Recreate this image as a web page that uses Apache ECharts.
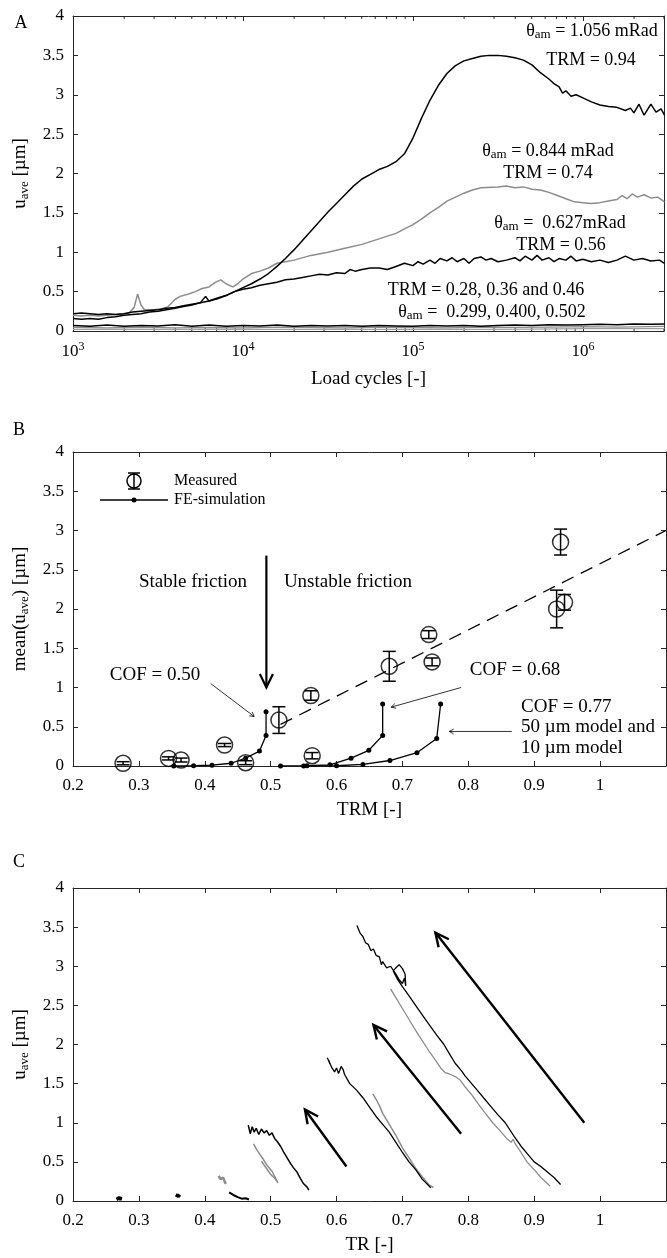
<!DOCTYPE html>
<html><head><meta charset="utf-8">
<script src="https://cdn.jsdelivr.net/npm/echarts@6/dist/echarts.min.js"></script>
<style>html,body{margin:0;padding:0;background:#fff}#c{width:667px;height:1258px}</style>
</head><body><div id="c"></div>
<script>
const FONT = 'Liberation Serif';
const AX = '#262626';
const GRAY = '#8c8c8c';

// ---------- Panel A: u_ave vs load cycles, pairs [log10(cycles), u_ave] ----------
const minorCycleTicks = [2e3,3e3,4e3,5e3,6e3,7e3,8e3,9e3,2e4,3e4,4e4,5e4,6e4,7e4,8e4,9e4,2e5,3e5,4e5,5e5,6e5,7e5,8e5,9e5,2e6,3e6];
const curveTRM094 = [[3.00,0.16],[3.05,0.15],[3.10,0.16],[3.15,0.15],[3.20,0.17],[3.25,0.18],[3.30,0.20],[3.35,0.21],[3.40,0.22],[3.45,0.24],[3.50,0.25],[3.55,0.27],[3.60,0.29],[3.65,0.31],[3.70,0.33],[3.75,0.36],[3.80,0.38],[3.85,0.41],[3.90,0.45],[3.95,0.50],[4.00,0.55],[4.05,0.60],[4.10,0.66],[4.15,0.73],[4.20,0.82],[4.25,0.92],[4.30,1.03],[4.35,1.15],[4.40,1.27],[4.45,1.39],[4.50,1.51],[4.55,1.62],[4.60,1.73],[4.65,1.84],[4.70,1.93],[4.75,1.99],[4.80,2.05],[4.85,2.09],[4.90,2.15],[4.95,2.25],[5.00,2.45],[5.05,2.70],[5.10,2.93],[5.15,3.12],[5.20,3.27],[5.25,3.37],[5.30,3.43],[5.35,3.46],[5.40,3.49],[5.45,3.50],[5.50,3.50],[5.55,3.49],[5.60,3.47],[5.65,3.44],[5.70,3.38],[5.75,3.28],[5.80,3.20],[5.83,3.14],[5.86,3.10],[5.88,3.02],[5.90,3.05],[5.93,2.98],[5.96,3.00],[6.00,2.96],[6.05,2.91],[6.10,2.87],[6.15,2.85],[6.20,2.84],[6.25,2.80],[6.28,2.83],[6.30,2.77],[6.33,2.88],[6.36,2.74],[6.40,2.88],[6.43,2.78],[6.46,2.82],[6.48,2.74]];
const curveTRM074 = [[3.00,0.20],[3.05,0.19],[3.10,0.20],[3.15,0.19],[3.20,0.20],[3.25,0.21],[3.30,0.22],[3.33,0.23],[3.36,0.30],[3.38,0.47],[3.40,0.33],[3.42,0.27],[3.47,0.27],[3.52,0.28],[3.56,0.31],[3.60,0.40],[3.63,0.44],[3.68,0.47],[3.72,0.50],[3.76,0.54],[3.80,0.56],[3.84,0.62],[3.87,0.65],[3.90,0.60],[3.94,0.56],[3.97,0.60],[4.00,0.66],[4.05,0.73],[4.10,0.76],[4.15,0.80],[4.20,0.86],[4.25,0.88],[4.30,0.90],[4.40,0.96],[4.50,1.00],[4.60,1.05],[4.70,1.10],[4.80,1.17],[4.90,1.24],[5.00,1.35],[5.05,1.42],[5.10,1.50],[5.15,1.57],[5.20,1.65],[5.25,1.70],[5.30,1.75],[5.35,1.79],[5.40,1.82],[5.50,1.83],[5.55,1.84],[5.60,1.82],[5.65,1.83],[5.70,1.80],[5.75,1.79],[5.80,1.76],[5.85,1.72],[5.90,1.68],[5.95,1.64],[6.00,1.63],[6.05,1.62],[6.10,1.63],[6.15,1.65],[6.20,1.67],[6.23,1.72],[6.26,1.68],[6.29,1.74],[6.32,1.70],[6.36,1.73],[6.40,1.69],[6.44,1.70],[6.48,1.64]];
const curveTRM056 = [[3.00,0.22],[3.05,0.23],[3.10,0.22],[3.15,0.21],[3.20,0.22],[3.25,0.21],[3.30,0.22],[3.35,0.24],[3.40,0.25],[3.45,0.26],[3.50,0.27],[3.55,0.29],[3.60,0.30],[3.65,0.32],[3.70,0.34],[3.75,0.36],[3.78,0.44],[3.80,0.38],[3.85,0.42],[3.90,0.45],[3.95,0.50],[4.00,0.53],[4.05,0.55],[4.10,0.58],[4.15,0.60],[4.20,0.62],[4.25,0.65],[4.30,0.66],[4.35,0.68],[4.40,0.70],[4.45,0.72],[4.50,0.71],[4.55,0.74],[4.60,0.73],[4.63,0.78],[4.66,0.76],[4.70,0.78],[4.75,0.80],[4.80,0.80],[4.85,0.78],[4.90,0.82],[4.95,0.86],[5.00,0.83],[5.03,0.88],[5.06,0.85],[5.10,0.90],[5.13,0.86],[5.16,0.92],[5.20,0.89],[5.23,0.93],[5.26,0.88],[5.30,0.92],[5.33,0.86],[5.36,0.92],[5.40,0.94],[5.43,0.90],[5.46,0.92],[5.50,0.88],[5.55,0.90],[5.60,0.93],[5.63,0.89],[5.66,0.95],[5.70,0.90],[5.73,0.96],[5.76,0.90],[5.80,0.93],[5.83,0.88],[5.86,0.92],[5.90,0.90],[5.93,0.95],[5.96,0.89],[6.00,0.91],[6.05,0.88],[6.10,0.90],[6.15,0.87],[6.20,0.90],[6.25,0.95],[6.30,0.90],[6.35,0.92],[6.40,0.89],[6.45,0.90],[6.48,0.86]];
const curveLowBlack = [[3.00,0.07],[3.10,0.06],[3.20,0.075],[3.30,0.06],[3.40,0.07],[3.50,0.065],[3.60,0.08],[3.70,0.06],[3.80,0.075],[3.90,0.06],[4.00,0.07],[4.10,0.065],[4.20,0.075],[4.30,0.06],[4.40,0.07],[4.50,0.065],[4.60,0.07],[4.70,0.06],[4.80,0.07],[4.90,0.065],[5.00,0.06],[5.10,0.07],[5.20,0.065],[5.30,0.07],[5.40,0.06],[5.50,0.07],[5.60,0.075],[5.70,0.07],[5.80,0.08],[5.90,0.075],[6.00,0.08],[6.10,0.085],[6.20,0.08],[6.30,0.09],[6.40,0.085],[6.48,0.09]];
const curveLowGray1 = [[3.00,0.045],[3.20,0.04],[3.40,0.05],[3.60,0.04],[3.80,0.045],[4.00,0.04],[4.20,0.05],[4.40,0.045],[4.60,0.04],[4.80,0.05],[5.00,0.045],[5.20,0.04],[5.40,0.05],[5.60,0.045],[5.80,0.05],[6.00,0.055],[6.20,0.05],[6.48,0.06]];
const curveLowGray2 = [[3.00,0.02],[3.30,0.025],[3.60,0.02],[3.90,0.025],[4.20,0.02],[4.50,0.025],[4.80,0.02],[5.10,0.025],[5.40,0.02],[5.70,0.025],[6.00,0.03],[6.48,0.03]];

// ---------- Panel B: mean(u_ave) vs TRM ----------
const measuredTRM  = [0.276,0.345,0.364,0.430,0.462,0.5125,0.561,0.563,0.680,0.740,0.745,0.934,0.946,0.940];
const measuredMean = [0.035,0.097,0.076,0.267,0.042,0.585,0.898,0.131,1.270,1.674,1.326,2.000,2.085,2.853];
const measuredErr  = [0.020,0.020,0.025,0.020,0.025,0.170,0.060,0.040,0.190,0.050,0.050,0.240,0.100,0.165];
const trendLine = [[0.515,0.53],[1.10,3.00]];
const feCOF050 = [[0.353,0.0],[0.383,0.003],[0.411,0.010],[0.440,0.035],[0.462,0.10],[0.483,0.19],[0.493,0.39],[0.493,0.69]];
const feCOF068 = [[0.515,0.0],[0.555,0.004],[0.590,0.015],[0.622,0.10],[0.649,0.20],[0.670,0.39],[0.670,0.79]];
const feCOF077 = [[0.550,0.0],[0.600,0.003],[0.640,0.020],[0.681,0.07],[0.722,0.17],[0.752,0.35],[0.758,0.79]];
const arrowsBThick = [[0.4935,2.68,0.4935,1.0]];
const arrowsBThin = [[0.409,1.05,0.475,0.63],[0.789,1.0,0.683,0.75],[0.866,0.44,0.771,0.44]];

// ---------- Panel C: u_ave vs TR ----------
const trBlob1 = [[0.266,0.02],[0.270,0.04],[0.274,0.03],[0.276,0.02],[0.270,0.03]];
const trBlob2 = [[0.356,0.08],[0.360,0.06],[0.362,0.08],[0.358,0.07]];
const trGrayBlob = [[0.421,0.32],[0.424,0.28],[0.428,0.30],[0.430,0.25],[0.432,0.22]];
const trBlackShort = [[0.437,0.11],[0.445,0.07],[0.450,0.05],[0.456,0.03],[0.462,0.035],[0.467,0.02]];
const trGray046a = [[0.474,0.73],[0.480,0.64],[0.489,0.53],[0.495,0.45],[0.502,0.38],[0.507,0.30],[0.511,0.23]];
const trGray046b = [[0.486,0.51],[0.490,0.46],[0.495,0.40],[0.500,0.34],[0.505,0.30],[0.510,0.25]];
const trBlack056 = [[0.466,0.97],[0.469,0.86],[0.472,0.95],[0.475,0.88],[0.478,0.93],[0.482,0.85],[0.486,0.92],[0.490,0.87],[0.494,0.90],[0.498,0.84],[0.502,0.87],[0.506,0.80],[0.510,0.76],[0.515,0.70],[0.520,0.62],[0.525,0.55],[0.530,0.48],[0.535,0.42],[0.540,0.37],[0.545,0.29],[0.550,0.22],[0.555,0.18],[0.558,0.14]];
const trBlack074 = [[0.586,1.83],[0.590,1.75],[0.588,1.80],[0.593,1.70],[0.597,1.65],[0.600,1.70],[0.603,1.63],[0.607,1.72],[0.610,1.68],[0.612,1.62],[0.615,1.60],[0.620,1.50],[0.630,1.42],[0.640,1.32],[0.650,1.20],[0.660,1.08],[0.670,0.98],[0.680,0.88],[0.690,0.75],[0.700,0.62],[0.710,0.50],[0.720,0.40],[0.730,0.28],[0.743,0.17]];
const trGray074 = [[0.655,1.37],[0.660,1.30],[0.665,1.22],[0.670,1.12],[0.680,0.98],[0.690,0.84],[0.700,0.68],[0.710,0.55],[0.720,0.42],[0.730,0.31],[0.740,0.21],[0.747,0.17]];
const trBlack094 = [[0.940,0.21],[0.930,0.30],[0.920,0.37],[0.910,0.44],[0.900,0.50],[0.890,0.60],[0.880,0.70],[0.870,0.82],[0.856,1.00],[0.845,1.10],[0.835,1.20],[0.825,1.30],[0.815,1.40],[0.805,1.50],[0.795,1.60],[0.790,1.66],[0.780,1.76],[0.770,1.90],[0.763,2.00],[0.752,2.12],[0.740,2.26],[0.730,2.38],[0.720,2.50],[0.710,2.62],[0.700,2.74],[0.692,2.84],[0.686,2.94],[0.690,2.98],[0.695,3.02],[0.700,2.97],[0.704,2.90],[0.705,2.75],[0.703,2.85],[0.700,2.78],[0.695,2.83],[0.690,2.90],[0.682,3.00],[0.676,2.98],[0.670,3.06],[0.668,3.02],[0.665,3.12],[0.660,3.14],[0.656,3.22],[0.652,3.20],[0.648,3.28],[0.644,3.30],[0.640,3.38],[0.636,3.42],[0.633,3.48],[0.631,3.52]];
const trGray094 = [[0.682,2.71],[0.690,2.60],[0.700,2.46],[0.710,2.32],[0.720,2.18],[0.730,2.05],[0.740,1.92],[0.750,1.80],[0.758,1.70],[0.765,1.64],[0.772,1.62],[0.780,1.59],[0.787,1.55],[0.795,1.46],[0.805,1.36],[0.815,1.24],[0.825,1.13],[0.837,1.00],[0.848,0.90],[0.858,0.80],[0.865,0.75],[0.868,0.79],[0.872,0.72],[0.880,0.62],[0.889,0.50],[0.900,0.40],[0.910,0.30],[0.918,0.24],[0.924,0.19]];
const arrowsC = [[0.615,0.44,0.552,1.17],[0.789,0.86,0.656,2.25],[0.976,1.0,0.750,3.43]];

// ---------- helpers ----------
const toCycles = arr => arr.map(p => [Math.pow(10, p[0]), p[1]]);
const tickStyle = {inside:true, length:5, lineStyle:{color:AX, width:1}};
const lineAx = {show:true, onZero:false, lineStyle:{color:AX, width:1}};
const lblStyle = {color:'#000', fontFamily:FONT, fontSize:17};
const uRich = {
  u:{fontFamily:FONT, fontSize:19, color:'#000', lineHeight:22},
  s:{fontFamily:FONT, fontSize:13, color:'#000', lineHeight:13, verticalAlign:'bottom'}
};

function yAxes(gi, nameText) {
  return [
    {type:'value', gridIndex:gi, min:0, max:4, interval:0.5, position:'left',
     axisLine:lineAx, axisTick:tickStyle, splitLine:{show:false},
     axisLabel:Object.assign({margin:9}, lblStyle),
     name:nameText, nameLocation:'middle', nameGap:42, nameRotate:90,
     nameTextStyle:{rich:uRich}},
    {type:'value', gridIndex:gi, min:0, max:4, interval:0.5, position:'right',
     axisLine:lineAx, axisTick:tickStyle, splitLine:{show:false}, axisLabel:{show:false}}
  ];
}
function xLinAxes(gi, nameText) {
  return [
    {type:'value', gridIndex:gi, min:0.2, max:1.1, interval:0.1, position:'bottom',
     axisLine:lineAx, axisTick:tickStyle, splitLine:{show:false},
     axisLabel:Object.assign({margin:11, showMaxLabel:false}, lblStyle),
     name:nameText, nameLocation:'middle', nameGap:35,
     nameTextStyle:{fontFamily:FONT, fontSize:19, color:'#000'}},
    {type:'value', gridIndex:gi, min:0.2, max:1.1, interval:0.1, position:'top',
     axisLine:lineAx, axisTick:tickStyle, splitLine:{show:false}, axisLabel:{show:false}}
  ];
}

function arrowSeries(xi, yi, data, lw, headLen, headAng) {
  return {
    type:'custom', xAxisIndex:xi, yAxisIndex:yi, data:data, z:5, silent:true,
    encode:{x:[0,2], y:[1,3]},
    renderItem:function(params, api){
      const p0 = api.coord([api.value(0), api.value(1)]);
      const p1 = api.coord([api.value(2), api.value(3)]);
      const ang = Math.atan2(p1[1]-p0[1], p1[0]-p0[0]);
      const a1 = ang + Math.PI - headAng, a2 = ang + Math.PI + headAng;
      const h1 = [p1[0]+headLen*Math.cos(a1), p1[1]+headLen*Math.sin(a1)];
      const h2 = [p1[0]+headLen*Math.cos(a2), p1[1]+headLen*Math.sin(a2)];
      const st = {stroke:'#000', lineWidth:lw, fill:null};
      return {type:'group', children:[
        {type:'line', shape:{x1:p0[0], y1:p0[1], x2:p1[0], y2:p1[1]}, style:st},
        {type:'polyline', shape:{points:[h1, p1, h2]}, style:st}
      ]};
    }
  };
}
function lineSeries(xi, yi, data, color, width, extra) {
  return Object.assign({
    type:'line', xAxisIndex:xi, yAxisIndex:yi, data:data, showSymbol:false, symbol:'none',
    lineStyle:{color:color, width:width}, itemStyle:{color:color}, silent:true, animation:false
  }, extra || {});
}

const series = [];
// Panel A
series.push({
  type:'custom', xAxisIndex:0, yAxisIndex:0, silent:true, z:1,
  data:minorCycleTicks.map(v => [v, 0]),
  renderItem:function(params, api){
    const pb = api.coord([api.value(0), 0]), pt = api.coord([api.value(0), 4]);
    const st = {stroke:AX, lineWidth:1};
    return {type:'group', children:[
      {type:'line', shape:{x1:pb[0], y1:pb[1], x2:pb[0], y2:pb[1]-3}, style:st},
      {type:'line', shape:{x1:pt[0], y1:pt[1], x2:pt[0], y2:pt[1]+3}, style:st}
    ]};
  }
});
series.push(lineSeries(0,0,toCycles(curveLowGray2), '#a0a0a0', 1.3));
series.push(lineSeries(0,0,toCycles(curveLowGray1), GRAY, 1.3));
series.push(lineSeries(0,0,toCycles(curveLowBlack), '#000', 1.5));
series.push(lineSeries(0,0,toCycles(curveTRM074), GRAY, 1.5));
series.push(lineSeries(0,0,toCycles(curveTRM056), '#000', 1.5));
series.push(lineSeries(0,0,toCycles(curveTRM094), '#000', 1.5));

// Panel B
series.push(lineSeries(2,2,trendLine, '#000', 1.3, {lineStyle:{color:'#000', width:1.3, type:[13,8]}}));
[feCOF050, feCOF068, feCOF077].forEach(d => series.push(lineSeries(2,2,d,'#000',1.3,
  {showSymbol:true, symbol:'circle', symbolSize:5})));
series.push({
  type:'scatter', xAxisIndex:2, yAxisIndex:2, silent:true, z:4,
  data:measuredTRM.map((x,i) => [x, measuredMean[i]]),
  symbol:'circle', symbolSize:16,
  itemStyle:{color:'rgba(0,0,0,0)', borderColor:'#000', borderWidth:1.5}
});
series.push({
  type:'custom', xAxisIndex:2, yAxisIndex:2, silent:true, z:4,
  data:measuredTRM.map((x,i) => [x, measuredMean[i]-measuredErr[i], measuredMean[i]+measuredErr[i]]),
  encode:{x:0, y:[1,2]},
  renderItem:function(params, api){
    const x = api.value(0);
    const a = api.coord([x, api.value(1)]), b = api.coord([x, api.value(2)]);
    const w = 6.5, st = {stroke:'#000', lineWidth:1.5};
    return {type:'group', children:[
      {type:'line', shape:{x1:a[0], y1:a[1], x2:b[0], y2:b[1]}, style:st},
      {type:'line', shape:{x1:a[0]-w, y1:a[1], x2:a[0]+w, y2:a[1]}, style:st},
      {type:'line', shape:{x1:b[0]-w, y1:b[1], x2:b[0]+w, y2:b[1]}, style:st}
    ]};
  }
});
series.push(arrowSeries(2,2,arrowsBThick, 2.2, 15, 0.45));
series.push(arrowSeries(2,2,arrowsBThin, 0.8, 5, 0.5));

// Panel C
series.push(lineSeries(4,4,trBlob1,'#000',3.5));
series.push(lineSeries(4,4,trBlob2,'#000',3.5));
series.push(lineSeries(4,4,trGrayBlob,GRAY,2.5));
series.push(lineSeries(4,4,trBlackShort,'#000',2));
series.push(lineSeries(4,4,trGray046a,GRAY,1.5));
series.push(lineSeries(4,4,trGray046b,GRAY,1.5));
series.push(lineSeries(4,4,trBlack056,'#000',1.5));
series.push(lineSeries(4,4,trGray074,GRAY,1.5));
series.push(lineSeries(4,4,trBlack074,'#000',1.3));
series.push(lineSeries(4,4,trGray094,GRAY,1.3));
series.push(lineSeries(4,4,trBlack094,'#000',1.3));
series.push(arrowSeries(4,4,arrowsC, 2.4, 15, 0.45));

// text annotations
function mkRich(size) {
  return {
    t:{fontFamily:FONT, fontSize:size, fill:'#000', color:'#000', lineHeight:size+3},
    s:{fontFamily:FONT, fontSize:Math.round(size*0.7), fill:'#000', color:'#000', lineHeight:12, verticalAlign:'bottom'}
  };
}
function txt(x, y, text, align, size) {
  return {type:'text', x:x, y:y, silent:true, z:10,
    style:{text:text, fill:'#000', font:(size||18)+'px "'+FONT+'"', align:align||'center', verticalAlign:'middle'}};
}
function rtxt(x, y, text, align, size) {
  size = size || 18;
  return {type:'text', x:x, y:y, silent:true, z:10,
    style:{text:text, rich:mkRich(size), fill:'#000', font:size+'px "'+FONT+'"', align:align||'center', verticalAlign:'middle'}};
}
const graphics = [
  txt(21, 23, 'A', 'center', 18), txt(19, 430, 'B', 'center', 18), txt(19, 862, 'C', 'center', 18),
  rtxt(592, 31, '{t|θ}{s|am}{t| = 1.056 mRad}'), txt(591, 60, 'TRM = 0.94'),
  rtxt(548, 151, '{t|θ}{s|am}{t| = 0.844 mRad}'), txt(548, 173, 'TRM = 0.74'),
  rtxt(560, 223, '{t|θ}{s|am}{t| =  0.627mRad}'), txt(561, 245, 'TRM = 0.56'),
  txt(486, 290, 'TRM = 0.28, 0.36 and 0.46'),
  rtxt(492, 312, '{t|θ}{s|am}{t| =  0.299, 0.400, 0.502}'),
  txt(193, 582, 'Stable friction', 'center', 19), txt(348, 582, 'Unstable friction', 'center', 19),
  txt(155, 675, 'COF = 0.50', 'center', 19), txt(515, 670, 'COF = 0.68', 'center', 19),
  txt(521, 707, 'COF = 0.77', 'left', 19), txt(521, 727, '50 µm model and', 'left', 19), txt(521, 748, '10 µm model', 'left', 19),
  // legend
  {type:'circle', shape:{cx:134, cy:481, r:7}, style:{stroke:'#000', lineWidth:1.5, fill:null}, silent:true},
  {type:'line', shape:{x1:134, y1:473, x2:134, y2:489}, style:{stroke:'#000', lineWidth:1.5}, silent:true},
  {type:'line', shape:{x1:128, y1:473, x2:140, y2:473}, style:{stroke:'#000', lineWidth:1.5}, silent:true},
  {type:'line', shape:{x1:128, y1:489, x2:140, y2:489}, style:{stroke:'#000', lineWidth:1.5}, silent:true},
  {type:'line', shape:{x1:100, y1:500, x2:168, y2:500}, style:{stroke:'#000', lineWidth:1.3}, silent:true},
  {type:'circle', shape:{cx:134, cy:500, r:2.5}, style:{fill:'#000'}, silent:true},
  txt(174, 481, 'Measured', 'left', 16), txt(174, 500, 'FE-simulation', 'left', 16)
];

const logLabel = {
  margin:10,
  formatter:function(v){
    const l = Math.log10(v), e = Math.round(l);
    return Math.abs(l - e) < 1e-6 ? '{b|10}{p|' + e + '}' : '';
  },
  rich:{
    b:{fontFamily:FONT, fontSize:17, color:'#000', lineHeight:22},
    p:{fontFamily:FONT, fontSize:12, color:'#000', lineHeight:12, verticalAlign:'top'}
  }
};

const option = {
  animation:false,
  backgroundColor:'#fff',
  textStyle:{fontFamily:FONT},
  grid:[
    {left:73, top:16, width:593, height:315},
    {left:73, top:452, width:593, height:314},
    {left:73, top:888, width:593, height:313}
  ],
  xAxis:[
    {type:'log', gridIndex:0, min:1000, max:3e6, logBase:10, position:'bottom',
     axisLine:lineAx, axisTick:tickStyle, splitLine:{show:false}, axisLabel:logLabel,
     name:'Load cycles [-]', nameLocation:'middle', nameGap:39,
     nameTextStyle:{fontFamily:FONT, fontSize:19, color:'#000'}},
    {type:'log', gridIndex:0, min:1000, max:3e6, logBase:10, position:'top',
     axisLine:lineAx, axisTick:tickStyle, splitLine:{show:false}, axisLabel:{show:false}},
    ...xLinAxes(1, 'TRM [-]'),
    ...xLinAxes(2, 'TR [-]')
  ],
  yAxis:[
    ...yAxes(0, '{u|u}{s|ave}{u| [µm]}'),
    ...yAxes(1, '{u|mean(u}{s|ave}{u|) [µm]}'),
    ...yAxes(2, '{u|u}{s|ave}{u| [µm]}')
  ],
  series:series,
  graphic:graphics
};

const chart = echarts.init(document.getElementById('c'), null, {renderer:'canvas'});
chart.setOption(option);
</script>
</body></html>
